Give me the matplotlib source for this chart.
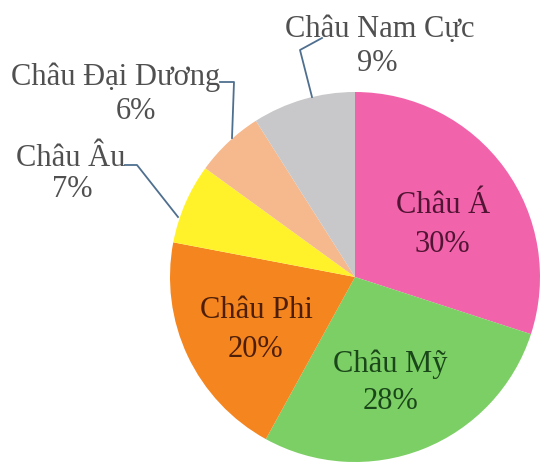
import matplotlib
matplotlib.use("Agg")
import matplotlib.pyplot as plt

# du lieu
names = ["Châu Á", "Châu Mỹ", "Châu Phi", "Châu Âu", "Châu Đại Dương", "Châu Nam Cực"]
values = [30, 28, 20, 7, 6, 9]
colors = ["#F164AB", "#7CCF64", "#F4851F", "#FFF22B", "#F6B98D", "#C8C8CA"]
text_colors = ["#521434", "#1A471A", "#4E1E08", "#505050", "#505050", "#505050"]

plt.rcParams["font.family"] = ["Liberation Serif", "DejaVu Serif"]

W, H = 540, 465
fig = plt.figure(figsize=(W / 100, H / 100), dpi=100)
ax = fig.add_axes([0, 0, 1, 1])

cx, cy, r = 355, H - 277, 185
ax.pie(values, colors=colors, startangle=90, counterclock=False,
       center=(cx, cy), radius=r, frame=True,
       wedgeprops=dict(linewidth=0))
ax.set_xlim(0, W)
ax.set_ylim(0, H)
ax.set_aspect("equal")
ax.axis("off")

# vi tri nhan: (x ten, baseline ten, x %, baseline %) tinh tu tren xuong
name_pos = [(443, 213), (390, 372), (256, 318), (71, 166), (116, 85), (380, 37)]
pct_pos = [(442, 252), (390, 409), (255, 357), (72, 197), (136, 119), (377, 71)]
fs = 22
for i in range(len(names)):
    x, y = name_pos[i]
    ax.text(x, H - y, names[i], ha="center", va="baseline",
            fontsize=fs, color=text_colors[i])
    x, y = pct_pos[i]
    ax.text(x, H - y, str(values[i]) + "%", ha="center", va="baseline",
            fontsize=fs, color=text_colors[i])

# duong dan
line_col = "#4F6F8F"
ax.plot([312, 300, 322], [H - 97, H - 50, H - 38], color=line_col, lw=1.3)
ax.plot([220, 234, 232], [H - 82, H - 82, H - 138], color=line_col, lw=1.3)
ax.plot([125, 137, 178], [H - 165, H - 165, H - 217], color=line_col, lw=1.3)

fig.savefig("out.png", dpi=100)
